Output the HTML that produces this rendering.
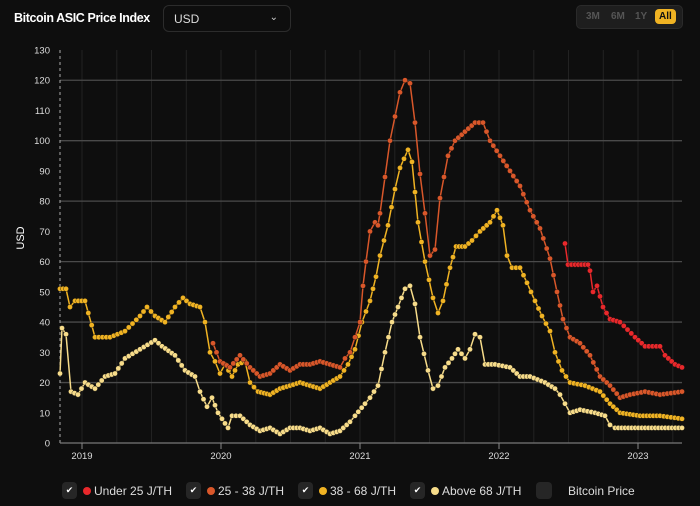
<!DOCTYPE html>
<html><head><meta charset="utf-8"><style>
body{margin:0;width:700px;height:506px;background:#0e0e0e;font-family:"Liberation Sans",sans-serif;color:#fff;overflow:hidden;position:relative}
.t{position:absolute;left:14px;top:11px;font-size:12.5px;font-weight:bold;letter-spacing:-0.4px}
.dd{position:absolute;left:163px;top:5px;width:128px;height:27px;border:1px solid #2c2c2c;border-radius:6px;box-sizing:border-box}
.dd span{position:absolute;left:10px;top:6px;font-size:12px;color:#ddd}
.dd i{position:absolute;right:12px;top:6px;font-style:normal;font-size:10px;color:#ccc}
.bg{position:absolute;left:576px;top:5px;width:107px;height:24px;background:#1e1e1e;border:1px solid #2a2a2a;border-radius:5px;box-sizing:border-box;font-size:10px;font-weight:bold;color:#555}
.bg b{position:absolute;top:5px}
.bg .a{left:78px;top:3px;background:#f0b323;color:#111;border-radius:4px;padding:2px 4px}
.lg{position:absolute;top:482px;font-size:12px;color:#ddd;display:flex;align-items:center}
.cb{width:15px;height:17px;background:#262626;border-radius:4px;margin-right:6px;font-size:9px;text-align:center;line-height:17px;color:#fff}
.dot{width:8px;height:8px;border-radius:50%;margin-right:3px}
</style></head><body>
<div class="t">Bitcoin ASIC Price Index</div>
<div class="dd"><span>USD</span><i>⌄</i></div>
<div class="bg"><b style="left:9px">3M</b><b style="left:34px">6M</b><b style="left:58px">1Y</b><b class="a">All</b></div>
<svg id="s" width="700" height="506" style="position:absolute;left:0;top:0"></svg>
<div class="lg" style="left:62px"><div class="cb">✔</div><div class="dot" style="background:#e8282b"></div>Under 25 J/TH</div>
<div class="lg" style="left:186px"><div class="cb">✔</div><div class="dot" style="background:#d9572a"></div>25 - 38 J/TH</div>
<div class="lg" style="left:298px"><div class="cb">✔</div><div class="dot" style="background:#f0b323"></div>38 - 68 J/TH</div>
<div class="lg" style="left:410px"><div class="cb">✔</div><div class="dot" style="background:#f7dc8a"></div>Above 68 J/TH</div>
<div class="lg" style="left:536px"><div class="cb" style="width:16px"></div><span style="margin-left:10px">Bitcoin Price</span></div>
<script>
var s=document.getElementById('s'),h='';
function Y(v){return 443-v*3.023}
for(var x=82;x<684;x+=34.75)h+='<line x1="'+x.toFixed(1)+'" y1="50" x2="'+x.toFixed(1)+'" y2="443" stroke="#222" stroke-width="1"/>';
for(var v=0;v<=130;v+=10){var y=Y(v);h+='<text x="50" y="'+(y+3.5)+'" font-size="9.5" fill="#ddd" text-anchor="end" font-family="Liberation Sans">'+v+'</text>';
if(v%20==0&&v>0)h+='<line x1="60" y1="'+y+'" x2="682" y2="'+y+'" stroke="#4a4a4a" stroke-width="1.3"/>';}
h+='<line x1="60" y1="50" x2="60" y2="443" stroke="#aaa" stroke-dasharray="3,3"/>';
h+='<line x1="60" y1="443" x2="682" y2="443" stroke="#777" stroke-width="1.3"/>';
var yrs=['2019','2020','2021','2022','2023'];for(var i=0;i<5;i++){var x=82+i*139;h+='<line x1="'+x+'" y1="443" x2="'+x+'" y2="449" stroke="#888"/><text x="'+x+'" y="459" font-size="9.5" fill="#ddd" text-anchor="middle" font-family="Liberation Sans">'+yrs[i]+'</text>';}
h+='<text transform="translate(24,238) rotate(-90)" font-size="11" fill="#fff" text-anchor="middle" font-family="Liberation Sans">USD</text>';
function ser(p,c){var pts=[];for(var i=0;i<p.length-2;i+=2){var x0=p[i],v0=p[i+1],x1=p[i+2],v1=p[i+3];var n=Math.max(1,Math.round((x1-x0)/3.4));for(var k=0;k<n;k++){var t=k/n;pts.push([x0+(x1-x0)*t,Y(v0+(v1-v0)*t)]);}}
pts.push([p[p.length-2],Y(p[p.length-1])]);
h+='<polyline fill="none" stroke="'+c+'" stroke-width="1.5" points="'+pts.map(function(q){return q[0].toFixed(1)+','+q[1].toFixed(1)}).join(' ')+'"/>';
pts.forEach(function(q){h+='<circle cx="'+q[0].toFixed(1)+'" cy="'+q[1].toFixed(1)+'" r="2.6" fill="'+c+'" stroke="#0e0e0e" stroke-width="0.4"/>';});}
ser([60,23,62,38,66,36,71,17,78,16,85,20,95,18,105,22,115,23,125,28,140,31,155,34,162,32,175,29,185,24,195,22,200,17,207,12,212,15,218,10,222,8,228,5,232,9,240,9,250,6,260,4,270,5,280,3,290,5,300,5,310,4,320,5,330,3,340,4,350,7,355,9,365,13,370,15,378,19,385,30,392,40,398,45,405,51,410,52,415,46,420,35,428,24,433,18,438,19,445,25,452,28,458,31,465,28,470,31,475,36,480,35,485,26,495,26,510,25,520,22,530,22,545,20,555,18,560,16,565,13,570,10,580,11,595,10,605,9,610,6,615,5,625,5,682,5],'#f7dc8a');
ser([60,51,66,51,70,45,75,47,85,47,95,35,110,35,125,37,140,42,147,45,155,42,165,40,175,45,183,48,190,46,200,45,205,40,210,30,215,27,220,23,225,26,232,22,238,26,245,27,250,20,258,17,270,16,280,18,290,19,300,20,310,19,320,18,330,20,340,22,348,26,355,31,362,40,370,47,376,55,380,62,388,72,395,84,400,91,408,97,412,93,418,73,425,60,433,48,438,43,443,47,450,58,456,65,465,65,472,67,480,70,490,73,497,77,503,72,507,62,512,58,520,58,527,53,535,47,542,42,550,37,555,30,562,24,570,20,585,19,600,17,610,13,620,10,640,9,660,9,682,8],'#f0b323');
ser([213,33,220,27,230,25,240,29,250,25,260,22,270,23,280,26,290,24,300,26,310,26,320,27,330,26,340,25,345,28,350,30,355,35,360,40,363,52,366,60,370,70,375,73,378,72,380,76,385,88,390,100,395,108,400,116,405,120,410,119,415,106,420,89,425,76,430,62,435,64,440,81,448,95,455,100,465,103,475,106,483,106,490,100,500,95,510,90,520,85,530,77,540,71,550,61,557,50,563,41,570,35,580,33,590,29,600,22,610,19,620,15,630,16,645,17,660,16,682,17],'#d9572a');
ser([565,66,568,59,575,59,588,59,590,57,593,50,597,52,603,45,610,41,620,40,635,35,645,32,660,32,665,29,675,26,682,25],'#e8282b');
s.innerHTML=h;
</script>
</body></html>
